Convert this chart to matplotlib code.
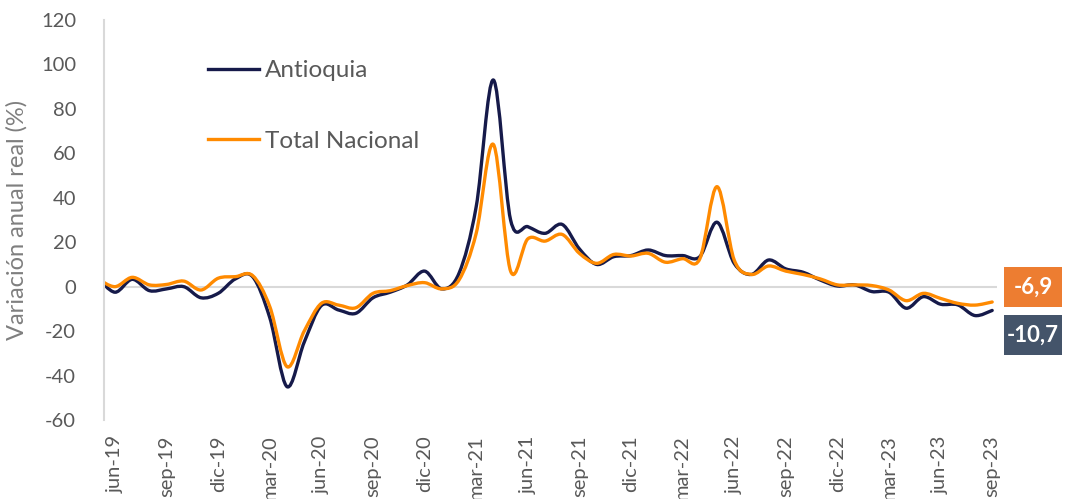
import numpy as np
import matplotlib
matplotlib.use('Agg')
import matplotlib.pyplot as plt
from matplotlib.path import Path
from matplotlib.patches import PathPatch, Rectangle
from matplotlib.lines import Line2D

plt.rcParams['font.family'] = ['Lato', 'DejaVu Sans']
plt.rcParams['axes.unicode_minus'] = False

# --- data ---
months = ['may-19', 'jun-19', 'jul-19', 'ago-19', 'sep-19', 'oct-19', 'nov-19', 'dic-19',
          'ene-20', 'feb-20', 'mar-20', 'abr-20', 'may-20', 'jun-20', 'jul-20', 'ago-20',
          'sep-20', 'oct-20', 'nov-20', 'dic-20',
          'ene-21', 'feb-21', 'mar-21', 'abr-21', 'may-21', 'jun-21', 'jul-21', 'ago-21',
          'sep-21', 'oct-21', 'nov-21', 'dic-21',
          'ene-22', 'feb-22', 'mar-22', 'abr-22', 'may-22', 'jun-22', 'jul-22', 'ago-22',
          'sep-22', 'oct-22', 'nov-22', 'dic-22',
          'ene-23', 'feb-23', 'mar-23', 'abr-23', 'may-23', 'jun-23', 'jul-23', 'ago-23',
          'sep-23']

antioquia = [4, -2.5, 3.3, -1.8, -1, 0, -5, -3,
             3.5, 4.5, -14, -45, -25, -8.5, -10.5, -12,
             -5, -2.5, 0.8, 7,
             -1, 6, 36, 93, 30, 27, 24, 28,
             17, 10, 13.5, 14,
             16.5, 14, 14, 13.5, 29, 10.5, 5.5, 12,
             8, 6.5, 3, 0.3,
             0.8, -2.2, -2.5, -9.7, -4.5, -7.9, -8.2, -13,
             -10.7]

nacional = [3.5, 0, 4.2, 0.8, 1, 2.5, -1.5, 3.8,
            4.5, 5, -9, -36, -20, -7.5, -8.3, -9.5,
            -3, -1.8, 0.5, 1.8,
            -1, 3, 24, 64, 7, 21.5, 20.5, 23.5,
            15, 10.5, 14.5, 13.8,
            15, 11, 12.6, 12.5, 45, 12, 5.5, 9.3,
            7, 5.5, 3.5, 0.8,
            0.8, 0.5, -1.5, -6.3, -3, -5.3, -7.5, -8.3,
            -6.9]

tick_labels = ['jun-19', 'sep-19', 'dic-19', 'mar-20', 'jun-20', 'sep-20', 'dic-20',
               'mar-21', 'jun-21', 'sep-21', 'dic-21', 'mar-22', 'jun-22', 'sep-22',
               'dic-22', 'mar-23', 'jun-23', 'sep-23']

NAVY = '#161a4a'
ORANGE = '#ff8a00'
GRAY_TXT = '#595959'


def smooth_path(xs, ys):
    """Bezier path through the points (Excel-like smoothed line)."""
    pts = np.column_stack([xs, ys]).astype(float)
    n = len(pts)
    verts = [pts[0]]
    codes = [Path.MOVETO]
    for i in range(n - 1):
        p0 = pts[i - 1] if i > 0 else pts[i]
        p1, p2 = pts[i], pts[i + 1]
        p3 = pts[i + 2] if i + 2 < n else pts[i + 1]
        c1 = p1 + (p2 - p0) / 6.0
        c2 = p2 - (p3 - p1) / 6.0
        verts += [c1, c2, p2]
        codes += [Path.CURVE4] * 3
    return Path(verts, codes)


fig = plt.figure(figsize=(10.71, 4.99), dpi=100)
ax = fig.add_axes([104 / 1071, 1 - 420 / 499, 893 / 1071, 400 / 499])

x = np.arange(len(months)) - 1  # index 0 = jun-19
for series, col in [(antioquia, NAVY), (nacional, ORANGE)]:
    ax.add_patch(PathPatch(smooth_path(x, series), fill=False, ec=col, lw=2.4,
                           capstyle='round', joinstyle='round'))

ax.axhline(0, color='#d9d9d9', lw=1.5, zorder=0)
ax.set_xlim(-0.64, 51.28)
ax.set_ylim(-60, 120)
ax.set_yticks(np.arange(-60, 121, 20))
ax.tick_params(axis='y', length=0, labelsize=14.5, labelcolor=GRAY_TXT, pad=20)

tick_pos = [months.index(m) - 1 for m in tick_labels]
ax.set_xticks(tick_pos)
ax.set_xticklabels(tick_labels, rotation=90, va='top', ha='center')
ax.tick_params(axis='x', length=0, labelsize=14.5, labelcolor=GRAY_TXT, pad=11)

for s in ['top', 'right', 'bottom']:
    ax.spines[s].set_visible(False)
ax.spines['left'].set_color('#d9d9d9')
ax.spines['left'].set_linewidth(1.5)

ax.set_ylabel('Variación anual real (%)', fontsize=17, color='#7f7f7f', labelpad=10)

handles = [Line2D([], [], color=NAVY, lw=2.4), Line2D([], [], color=ORANGE, lw=2.4)]
ax.legend(handles, ['Antioquia', 'Total Nacional'], loc='upper left',
          bbox_to_anchor=(0.116, 0.90), frameon=False, fontsize=17.5,
          labelcolor=GRAY_TXT, handlelength=2.1, handletextpad=0.25,
          labelspacing=2.05, borderpad=0, borderaxespad=0)

# value boxes at the right
W, H = 1071, 499
for (top, bot), txt, col in [((267, 307), '-6,9', '#ed7d31'),
                             ((315, 355), '-10,7', '#44546a')]:
    fig.add_artist(Rectangle((1004 / W, 1 - bot / H), 58 / W, (bot - top) / H,
                             transform=fig.transFigure, color=col, lw=0))
    fig.text(1033 / W, 1 - (top + bot) / 2 / H, txt, color='white', fontsize=16,
             fontweight='bold', ha='center', va='center')

fig.savefig('out.png', dpi=100)
